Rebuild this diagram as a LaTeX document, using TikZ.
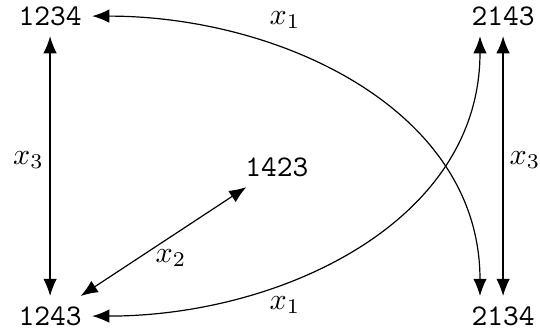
\documentclass[tikz,border=0pt]{standalone}
\usetikzlibrary{arrows.meta}
\tikzset{
  perm/.style={font=\ttfamily},
  lab/.style={inner sep=1pt},
  conn/.style={{Latex[length=5.7pt,width=4.5pt]}-{Latex[length=5.7pt,width=4.5pt]}, line width=0.4pt},
}
\begin{document}
\begin{tikzpicture}[x=1pt,y=1pt]
\useasboundingbox (0,0) rectangle (180,111.67);
\node[perm] (p1234) at (16.7,106.3) {1234};
\node[perm] (p1243) at (16.7,6.3) {1243};
\node[perm] (p2143) at (167.7,106.3) {2143};
\node[perm] (p2134) at (167.7,6.3) {2134};
\node[perm] (p1423) at (92.3,56) {1423};
\coordinate (c2143) at ([xshift=-7.7pt]p2143.south);
\coordinate (c2134) at ([xshift=-7.7pt]p2134.north);
\draw[conn] (p1234) -- (p1243);
\draw[conn] (p2143) -- (p2134);
\draw[conn] (p1243) -- (p1423);
\draw[conn] (p1234.east) to[out=0,in=90] (c2134);
\draw[conn] (p1243.east) to[out=0,in=-90] (c2143);
\node[lab] (l1) at (95,105) {$x_1$};
\node[lab] (l2) at (95,10) {$x_1$};
\node[lab] (l3) at (57,25.7) {$x_2$};
\node[lab] (l4) at (9.5,58.3) {$x_3$};
\node[lab] (l5) at (175,58.3) {$x_3$};
\end{tikzpicture}
\end{document}
